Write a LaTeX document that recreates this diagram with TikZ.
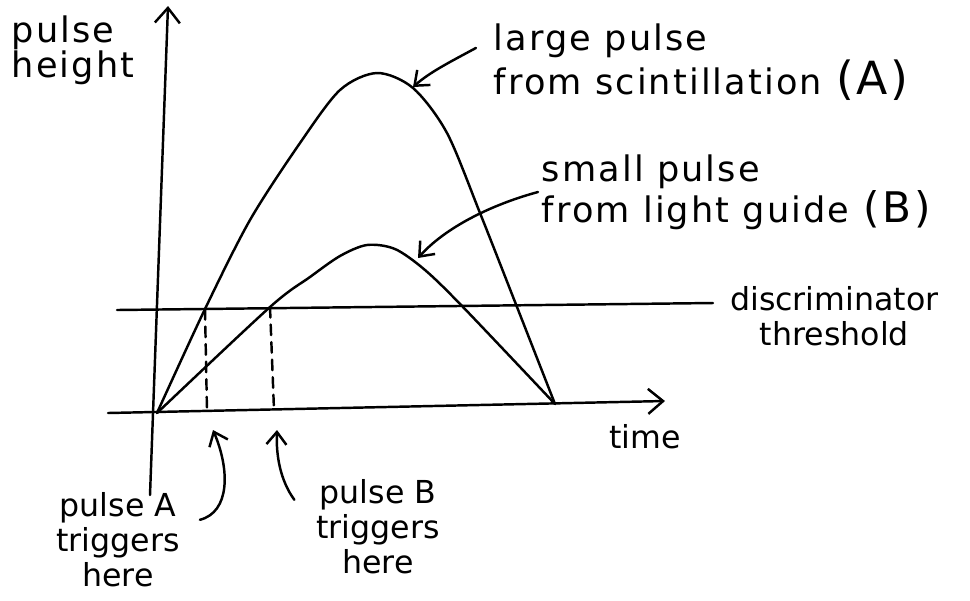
\documentclass[tikz,border=0pt]{standalone}
\usepackage{fontspec}
\setmainfont{DejaVu Sans}
\usetikzlibrary{arrows.meta}

\begin{document}
\begin{tikzpicture}[
    x=0.02cm, y=-0.02cm,
    every node/.style={font=\fontsize{18}{20}\selectfont},
    pen/.style={line width=1.4pt, line cap=round, line join=round},
    axis/.style={pen, -{Straight Barb[length=3mm,width=5mm]}},
    note/.style={pen, -{Straight Barb[length=2.5mm,width=4mm]}},
    trig/.style={pen, dash pattern=on 6pt off 4pt},
    lbl/.style={inner sep=2pt, align=left},
    wide/.style={font=\fontsize{20}{20}\selectfont\addfontfeature{LetterSpace=6}}
  ]
  \useasboundingbox (0,0) rectangle (970,600);

  % axes and threshold
  \coordinate (yb) at (150,495);
  \coordinate (yt) at (168,6);
  \coordinate (xl) at (108,413);
  \coordinate (xr) at (665,401);
  \coordinate (thl) at (117,310);
  \coordinate (thr) at (713,303);
  \draw[axis] (yb) -- (yt);
  \draw[axis] (xl) -- (xr);
  \draw[pen] (thl) -- (thr);

  % pulses
  \coordinate (o) at (157,413);
  \coordinate (e) at (555,404);
  \coordinate (cA) at (205,309);
  \coordinate (cB) at (270,307);
  \draw[pen] plot[smooth, tension=0.5] coordinates {(o) (cA) (250,220) (300,143)
    (340,90) (377,73) (413,88) (447,133) (480,213) (517,307) (e)};
  \draw[pen] plot[smooth, tension=0.5] coordinates {(o) (cB) (310,277) (340,256)
    (367,245) (395,249) (425,270) (463,307) (e)};

  % trigger points
  \coordinate (fA) at (207,412);
  \coordinate (fB) at (274,410);
  \draw[trig] (cA) -- (fA);
  \draw[trig] (cB) -- (fB);

  % labels
  \node[lbl, wide, anchor=north west] (yLbl) at (8,12) {pulse\\height};
  \node[lbl, wide, anchor=west] (lgLbl) at (490,62)
    {large pulse\\from scintillation\hspace{0.4em}{\fontsize{26}{20}\selectfont(A)}};
  \node[lbl, wide, anchor=west] (smLbl) at (538,192)
    {small pulse\\from light guide\hspace{0.4em}{\fontsize{24}{20}\selectfont(B)}};
  \node[align=center, anchor=west] (thLbl) at (724,316) {discriminator\\threshold};
  \node (tLbl) at (645,437) {time};
  \node[align=center] (trigA) at (118,540) {pulse A\\triggers\\here};
  \node[align=center] (trigB) at (378,527) {pulse B\\triggers\\here};

  % pointers
  \coordinate (hitA) at (413,87);
  \coordinate (hitB) at (418,258);
  \coordinate (upA) at (213,430);
  \coordinate (upB) at (277,430);
  \draw[note] ([xshift=-8pt,yshift=8pt]lgLbl.west) .. controls (450,62) and (430,72) .. (hitA);
  \draw[note] (smLbl.west) .. controls (490,205) and (445,228) .. (hitB);
  \draw[note] ([xshift=8pt,yshift=-19pt]trigA.north east) .. controls (230,512) and (230,470) .. (upA);
  \draw[note] ([xshift=-9pt,yshift=-15pt]trigB.north west) .. controls (280,480) and (276,455) .. (upB);
\end{tikzpicture}
\end{document}
